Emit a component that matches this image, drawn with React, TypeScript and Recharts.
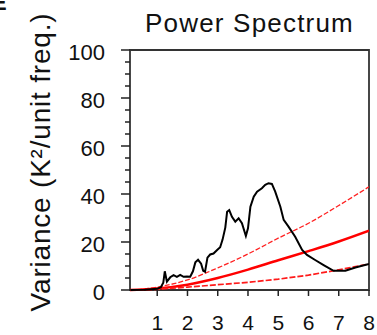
import { LineChart, Line, XAxis, YAxis, ReferenceArea } from 'recharts'

const FONT = '"Liberation Sans", Arial, sans-serif'

// black spectrum: frequency and variance
const specFreq = [
  0.11, 0.6, 1.0, 1.12, 1.2, 1.25, 1.32, 1.43, 1.54, 1.65, 1.76, 1.87, 1.98, 2.09, 2.18, 2.26, 2.35, 2.45,
  2.52, 2.58, 2.66, 2.75, 2.86, 2.98, 3.08, 3.16, 3.25, 3.31, 3.38, 3.47, 3.58, 3.69, 3.8, 3.93, 4.0, 4.08,
  4.19, 4.3, 4.46, 4.57, 4.68, 4.79, 4.9, 5.07, 5.18, 5.34, 5.56, 5.79, 5.95, 6.22, 6.5, 6.83, 7.22, 7.55, 8.0,
]
const specVar = [
  0, 0.1, 0.5, 1.2, 3, 7.8, 3.5, 5.3, 6.2, 5.5, 6.3, 5.5, 5.6, 5.5, 7.8, 11.5, 12.6, 11,
  8, 7.6, 13.5, 14.8, 15.2, 16.7, 17.8, 21, 26, 32.6, 33.3, 30.5, 28.5, 29.9, 27.8, 22.5, 25.7, 34.7,
  38.9, 41, 42.4, 43.8, 44.5, 44.2, 41, 34.7, 29.2, 26.4, 22.2, 16.7, 14.6, 12.5, 10.4, 8.0, 8.0, 9.4, 10.8,
]

// red noise fit and its bounds
const redFreq = [0.1, 0.5, 1, 2, 3, 4, 5, 6, 7, 8]
const redMean = [0, 0.2, 0.6, 2.2, 5.0, 8.5, 12.4, 16.2, 20.2, 24.7]
const redUpper = [0, 0.3, 1.2, 4.2, 9.2, 15.0, 21.6, 27.8, 35.2, 43.0]
const redLower = [0, 0.05, 0.3, 1.2, 2.2, 3.2, 4.5, 6.2, 8.4, 10.8]

const xTicks = [1, 2, 3, 4, 5, 6, 7, 8]
const yMajor = [0, 20, 40, 60, 80, 100]
const yTicks = [0, 5, 10, 15, 20, 25, 30, 35, 40, 45, 50, 55, 60, 65, 70, 75, 80, 85, 90, 95, 100]

// one table on the union of frequencies, gaps bridged with connectNulls
type Row = { f: number; spec?: number; mean?: number; hiBound?: number; loBound?: number }
const rows: Record<string, Row> = {}
specFreq.forEach((f, i) => {
  rows[f] = { ...(rows[f] || { f }), spec: specVar[i] }
})
redFreq.forEach((f, i) => {
  rows[f] = { ...(rows[f] || { f }), mean: redMean[i], hiBound: redUpper[i], loBound: redLower[i] }
})
const data = Object.values(rows).sort((a, b) => a.f - b.f)

function XTick({ x, y, payload }: any) {
  return (
    <g>
      <line x1={x} y1={y} x2={x} y2={y + 6} stroke="#222" strokeWidth={1.5} />
      <text x={x} y={y + 40} textAnchor="middle" fontSize={21} fontFamily={FONT} fill="#111">
        {payload.value}
      </text>
    </g>
  )
}

function YTick({ x, y, payload }: any) {
  const major = yMajor.includes(payload.value)
  return (
    <g>
      <line x1={x - (major ? 9 : 5)} y1={y} x2={x} y2={y} stroke="#222" strokeWidth={1.5} />
      {major && (
        <text x={x - 25} y={y + 9.5} textAnchor="end" fontSize={22} fontFamily={FONT} fill="#111">
          {payload.value}
        </text>
      )}
    </g>
  )
}

export default function App() {
  return (
    <div style={{ position: 'absolute', left: 0, top: 0, width: 377, height: 335 }}>
      <LineChart width={377} height={335} data={data} margin={{ top: 50, right: 8, bottom: 0, left: 70 }}>
        <XAxis
          type="number"
          dataKey="f"
          domain={[0.1, 8]}
          ticks={xTicks}
          allowDataOverflow
          axisLine={false}
          tickLine={false}
          tickSize={0}
          tickMargin={0}
          height={45}
          tick={<XTick />}
        />
        <YAxis
          type="number"
          domain={[0, 100]}
          ticks={yTicks}
          interval={0}
          axisLine={false}
          tickLine={false}
          tickSize={0}
          tickMargin={0}
          width={60}
          tick={<YTick />}
        />
        <ReferenceArea x1={0.1} x2={8} y1={0} y2={100} fill="none" stroke="#333" strokeWidth={1.8} />
        <Line key="hi" dataKey="hiBound" type="monotone" connectNulls stroke="#ff2020" strokeWidth={1.3} strokeDasharray="5 2" dot={false} isAnimationActive={false} />
        <Line key="mean" dataKey="mean" type="monotone" connectNulls stroke="#ff0000" strokeWidth={2.5} dot={false} isAnimationActive={false} />
        <Line key="lo" dataKey="loBound" type="linear" connectNulls stroke="#ff1a1a" strokeWidth={1.7} strokeDasharray="6 2" dot={false} isAnimationActive={false} />
        <Line key="spec" dataKey="spec" type="linear" connectNulls stroke="#000" strokeWidth={2} dot={false} isAnimationActive={false} />
      </LineChart>
      <svg width={377} height={335} style={{ position: 'absolute', left: 0, top: 0, pointerEvents: 'none' }}>
        <text x={-8} y={10} fontSize={22} fontWeight="bold" fontFamily={FONT} fill="#111">E</text>
        <text x={249.5} y={32} textAnchor="middle" fontSize={26} letterSpacing={1.2} fontFamily={FONT} fill="#111">
          Power Spectrum
        </text>
        <text
          transform="translate(50,162) rotate(-90)"
          textAnchor="middle"
          fontSize={28}
          letterSpacing={0.8}
          fontFamily={FONT}
          fill="#111"
        >
          Variance (K²/unit freq.)
        </text>
      </svg>
    </div>
  )
}
